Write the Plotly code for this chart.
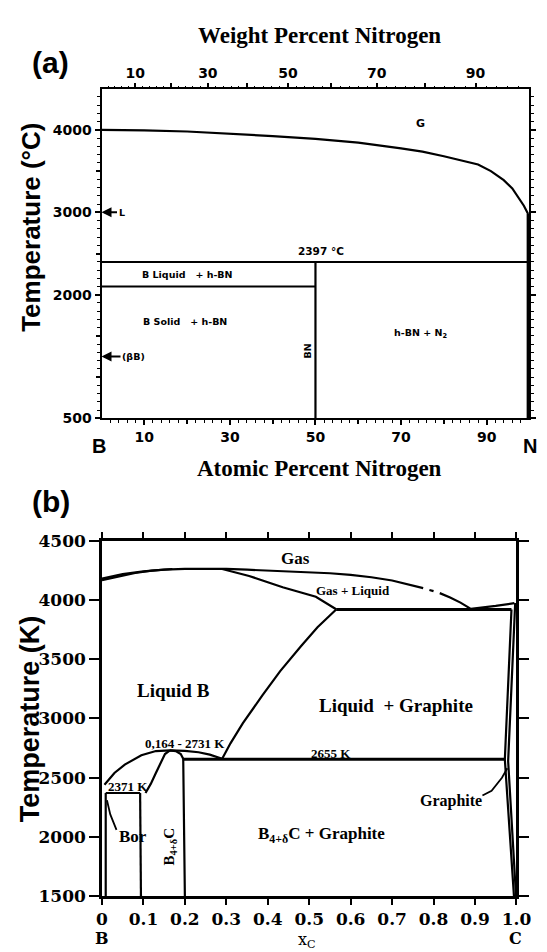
import plotly.graph_objects as go

W, H = 547, 952

# ---------------- Panel (a): B-N system (atomic % N, temperature degC) ----------------
a_curve_at = [0, 10, 20, 30, 40, 50, 60, 70, 75, 80, 85, 88, 91, 94, 96, 97.5, 98.7, 99.7]
a_curve_T = [4000, 3995, 3980, 3955, 3925, 3890, 3845, 3775, 3735, 3680, 3620, 3580, 3500, 3390, 3290, 3180, 3080, 2980]
a_eutectic_T = 2397
a_bmelt_T = 2100
a_bn_at = 50
a_T_min = 500
a_xtick_vals = [10, 30, 50, 70, 90]
a_xtick_plain = [20, 40, 60, 80]
a_ytick_vals = [500, 2000, 3000, 4000]
a_ytick_plain = [1000, 1500, 2500, 3500]
a_wt_labeled = [10, 30, 50, 70, 90]
a_wt_plain = [20, 40, 60, 80]

# ---------------- Panel (b): B-C system (x_C, temperature K) ----------------
b_dew_x = [0, 0.05, 0.1, 0.15, 0.2, 0.25, 0.3, 0.35, 0.4, 0.45, 0.5, 0.55, 0.6, 0.65, 0.7, 0.75, 0.775]
b_dew_T = [4180, 4218, 4242, 4256, 4263, 4265, 4262, 4256, 4250, 4244, 4236, 4226, 4212, 4192, 4165, 4125, 4100]
b_dew2_x = [0.79, 0.80]
b_dew2_T = [4085, 4075]
b_dew3_x = [0.815, 0.84, 0.865, 0.89, 0.95, 0.995]
b_dew3_T = [4058, 4022, 3978, 3925, 3950, 3973]
b_lens_x = [0, 0.04, 0.08, 0.12, 0.17]
b_lens_T = [4168, 4200, 4228, 4248, 4262]
b_bubble_x = [0.29, 0.355, 0.436, 0.516, 0.565]
b_bubble_T = [4262, 4203, 4108, 4027, 3922]
b_monotectic_T = 3920
b_monotectic_x = [0.565, 0.988]
b_liquidus_x = [0.565, 0.52, 0.48, 0.43, 0.387, 0.34, 0.31, 0.29]
b_liquidus_T = [3920, 3770, 3610, 3400, 3195, 2960, 2790, 2660]
b_eut2_T = 2655
b_eut2_x = [0.195, 0.972]
b_dome_x = [0.006, 0.03, 0.055, 0.095, 0.13, 0.164, 0.2, 0.233, 0.26, 0.29]
b_dome_T = [2440, 2540, 2611, 2690, 2725, 2731, 2727, 2715, 2695, 2660]
b_eut1_T = 2371
b_eut1_x = [0.009, 0.092]
b_sol_left_x = [0.105, 0.118, 0.13, 0.142, 0.152, 0.164]
b_sol_left_T = [2371, 2450, 2540, 2630, 2700, 2731]
b_sol_right_x = [0.164, 0.178, 0.19, 0.196, 0.2]
b_sol_right_T = [2731, 2725, 2700, 2660, 1500]
b_bor_x = [0.009, 0.009]
b_bor_T = [2371, 1500]
b_b4c_left_x = [0.092, 0.094]
b_b4c_left_T = [2371, 1500]
b_bor_leader_x = [0.012, 0.02, 0.035]
b_bor_leader_T = [2310, 2190, 2060]
b_gr1_x = [0.988, 0.972, 0.994]
b_gr1_T = [3920, 2655, 1500]
b_gr2_x = [0.997, 0.98, 0.999]
b_gr2_T = [3975, 2640, 1500]
b_gr_leader_x = [0.918, 0.94, 0.965, 0.978]
b_gr_leader_T = [2350, 2390, 2500, 2580]
b_xtick_vals = [0, 0.1, 0.2, 0.3, 0.4, 0.5, 0.6, 0.7, 0.8, 0.9, 1.0]
b_xtick_text = ["0", "0.1", "0.2", "0.3", "0.4", "0.5", "0.6", "0.7", "0.8", "0.9", "1.0"]
b_ytick_vals = [1500, 2000, 2500, 3000, 3500, 4000, 4500]


def wt_to_at(w):
    nN = w / 14.007
    nB = (100 - w) / 10.81
    return 100 * nN / (nN + nB)


def px(x):
    return x / W


def py(y):
    return 1 - y / H


fig = go.Figure()
LW = 2.2


def line(xs, ys, xa, ya, width=LW, dash=None):
    fig.add_trace(go.Scatter(x=xs, y=ys, mode="lines", xaxis=xa, yaxis=ya,
                             line=dict(color="black", width=width, dash=dash),
                             hoverinfo="skip", showlegend=False))


def carrier(xa, ya):
    fig.add_trace(go.Scatter(x=[0, 100], y=[a_T_min, a_T_min], mode="lines", xaxis=xa, yaxis=ya,
                             line=dict(width=0), hoverinfo="skip", showlegend=False))


# panel a marks
line(a_curve_at, a_curve_T, "x", "y")
line([a_curve_at[-1], a_curve_at[-1]], [a_curve_T[-1], a_T_min], "x", "y", width=3)
line([0, 100], [a_eutectic_T, a_eutectic_T], "x", "y")
line([0, a_bn_at], [a_bmelt_T, a_bmelt_T], "x", "y")
line([a_bn_at, a_bn_at], [a_T_min, a_eutectic_T], "x", "y")
# carriers for the extra tick axes of panel a
carrier("x2", "y")
carrier("x4", "y")
carrier("x5", "y")
carrier("x", "y4")

# panel b marks
X, Y = "x3", "y3"
line(b_dew_x, b_dew_T, X, Y)
line(b_dew2_x, b_dew2_T, X, Y)
line(b_dew3_x, b_dew3_T, X, Y)
line(b_lens_x, b_lens_T, X, Y)
line(b_bubble_x, b_bubble_T, X, Y)
line(b_monotectic_x, [b_monotectic_T] * 2, X, Y, width=3)
line(b_liquidus_x, b_liquidus_T, X, Y)
line(b_eut2_x, [b_eut2_T] * 2, X, Y, width=3)
line(b_dome_x, b_dome_T, X, Y)
line(b_eut1_x, [b_eut1_T] * 2, X, Y)
line(b_sol_left_x, b_sol_left_T, X, Y)
line(b_sol_right_x, b_sol_right_T, X, Y)
line(b_bor_x, b_bor_T, X, Y)
line(b_b4c_left_x, b_b4c_left_T, X, Y)
line(b_bor_leader_x, b_bor_leader_T, X, Y, width=1.8)
line(b_gr1_x, b_gr1_T, X, Y)
line(b_gr2_x, b_gr2_T, X, Y)
line(b_gr_leader_x, b_gr_leader_T, X, Y, width=1.8)

SANSB = "DejaVu Sans"
SERIF = "Liberation Serif"
SERIFD = "DejaVu Serif"

ann = []


def t(text, x, y, size, xref="x", yref="y", family=SANSB, angle=0, xanchor="center", yanchor="middle", weight="bold"):
    ann.append(dict(text=text, x=x, y=y, xref=xref, yref=yref, showarrow=False, textangle=angle,
                    xanchor=xanchor, yanchor=yanchor,
                    font=dict(family=family, size=size, color="black", weight=weight)))


# panel a texts
t("(a)", px(38), py(45), 30, "paper", "paper", family="Liberation Sans")
t("Weight Percent Nitrogen", px(318), py(18), 23, "paper", "paper", family=SERIF)
t("Atomic Percent Nitrogen", px(318), py(460), 23, "paper", "paper", family=SERIF)
t("Temperature (°C)", px(17), py(214), 26, "paper", "paper", family="Liberation Sans", angle=-90)
t("B", px(88), py(437), 20, "paper", "paper", family="Liberation Sans")
t("N", px(537), py(437), 20, "paper", "paper", family="Liberation Sans")
t("G", 74.5, 4075, 11)
t("2397 °C", 51.3, 2530, 10.5)
t("B Liquid   + h-BN", 20, 2249, 9.5)
t("B Solid   + h-BN", 19.4, 1670, 9.5)
t("h-BN + N<sub>2</sub>", 74.6, 1530, 9.5)
t("BN", 48.2, 1320, 9.5, angle=-90)
ann.append(dict(text="L", x=0, y=3000, xref="x", yref="y", ax=20, ay=0, showarrow=True,
                arrowhead=2, arrowsize=1, arrowwidth=2, arrowcolor="black",
                font=dict(family=SANSB, size=9.5, color="black", weight="bold")))
ann.append(dict(text="(βB)", x=0, y=1250, xref="x", yref="y", ax=32, ay=0, showarrow=True,
                arrowhead=2, arrowsize=1, arrowwidth=2, arrowcolor="black",
                font=dict(family=SANSB, size=9.5, color="black", weight="bold")))

# panel b texts
t("(b)", px(38), py(494), 30, "paper", "paper", family="Liberation Sans")
t("Temperature (K)", px(17), py(716), 27, "paper", "paper", family="Liberation Sans", angle=-90)
t("B", px(92), py(940), 16, "paper", "paper", family=SERIFD)
t("C", px(522), py(940), 16, "paper", "paper", family=SERIFD)
t("x<sub>C</sub>", px(305), py(942), 16, "paper", "paper", family=SERIFD, weight="normal")
t("Gas", 0.468, 4351, 17, "x3", "y3", family=SERIF)
t("Gas + Liquid", 0.606, 4081, 13, "x3", "y3", family=SERIF)
t("Liquid B", 0.172, 3236, 19, "x3", "y3", family=SERIF)
t("Liquid  + Graphite", 0.709, 3111, 19, "x3", "y3", family=SERIF)
t("0,164 - 2731 K", 0.2, 2792, 13, "x3", "y3", family=SERIF)
t("2655 K", 0.553, 2708, 13, "x3", "y3", family=SERIF)
t("2371 K", 0.063, 2425, 13, "x3", "y3", family=SERIF)
t("Bor", 0.036, 2005, 17, "x3", "y3", family=SERIF, xanchor="left")
t("B<sub>4+δ</sub>C", 0.163, 1916, 15, "x3", "y3", family=SERIF, angle=-90)
t("B<sub>4+δ</sub>C + Graphite", 0.529, 2013, 17, "x3", "y3", family=SERIF)
t("Graphite", 0.842, 2300, 16, "x3", "y3", family=SERIF)

fig.update_layout(annotations=ann)

a_xdom = [px(91), px(536)]
a_ydom = [py(409), py(73)]
b_xdom = [px(91.5), px(522.5)]
b_ydom = [py(897), py(534)]

tickfont_a = dict(family=SANSB, size=14, color="black", weight="bold")
tickfont_b = dict(family=SERIFD, size=17, color="black", weight="bold")
tk = dict(ticks="outside", ticklen=5, tickwidth=1.5, tickcolor="black")
mn = dict(ticks="outside", ticklen=2.5, tickwidth=1, tickcolor="black")
noax = dict(showgrid=False, zeroline=False)

fig.update_layout(
    width=W, height=H, margin=dict(l=0, r=0, t=0, b=0),
    paper_bgcolor="white", plot_bgcolor="white",
    xaxis=dict(domain=a_xdom, range=[0, 100], anchor="y", **noax,
               showline=True, linecolor="black", linewidth=2, mirror=True,
               tickmode="array", tickvals=a_xtick_vals, tickfont=tickfont_a, **tk,
               minor=dict(tickvals=list(range(2, 100, 2)), **mn)),
    xaxis2=dict(overlaying="x", side="top", anchor="y", range=[0, 100], **noax,
                tickmode="array", tickvals=[wt_to_at(w) for w in a_wt_labeled],
                ticktext=[str(w) for w in a_wt_labeled], tickfont=tickfont_a, **tk,
                minor=dict(tickvals=[wt_to_at(w) for w in range(2, 100, 2)], **mn)),
    xaxis4=dict(overlaying="x", side="top", anchor="y", range=[0, 100], **noax,
                tickmode="array", tickvals=[wt_to_at(w) for w in a_wt_plain], showticklabels=False, **tk),
    xaxis5=dict(overlaying="x", side="bottom", anchor="y", range=[0, 100], **noax,
                tickmode="array", tickvals=a_xtick_plain, showticklabels=False, **tk),
    yaxis=dict(domain=a_ydom, range=[500, 4490], anchor="x", **noax,
               showline=True, linecolor="black", linewidth=2, mirror="ticks",
               tickmode="array", tickvals=a_ytick_vals, tickfont=tickfont_a, **tk,
               minor=dict(tickvals=list(range(600, 4500, 100)), **mn)),
    yaxis4=dict(overlaying="y", side="left", anchor="x", range=[500, 4490], **noax,
                tickmode="array", tickvals=a_ytick_plain, showticklabels=False, **tk),
    xaxis3=dict(domain=b_xdom, range=[0, 1], anchor="y3", **noax,
                showline=True, linecolor="black", linewidth=2.5, mirror="ticks",
                tickmode="array", tickvals=b_xtick_vals, ticktext=b_xtick_text,
                ticks="outside", ticklen=6, tickwidth=2, tickcolor="black", tickfont=tickfont_b),
    yaxis3=dict(domain=b_ydom, range=[1500, 4500], anchor="x3", **noax,
                showline=True, linecolor="black", linewidth=2.5, mirror="ticks",
                tickmode="array", tickvals=b_ytick_vals,
                ticks="outside", ticklen=10, tickwidth=2, tickcolor="black", tickfont=tickfont_b),
)

fig.write_html("out.html")
